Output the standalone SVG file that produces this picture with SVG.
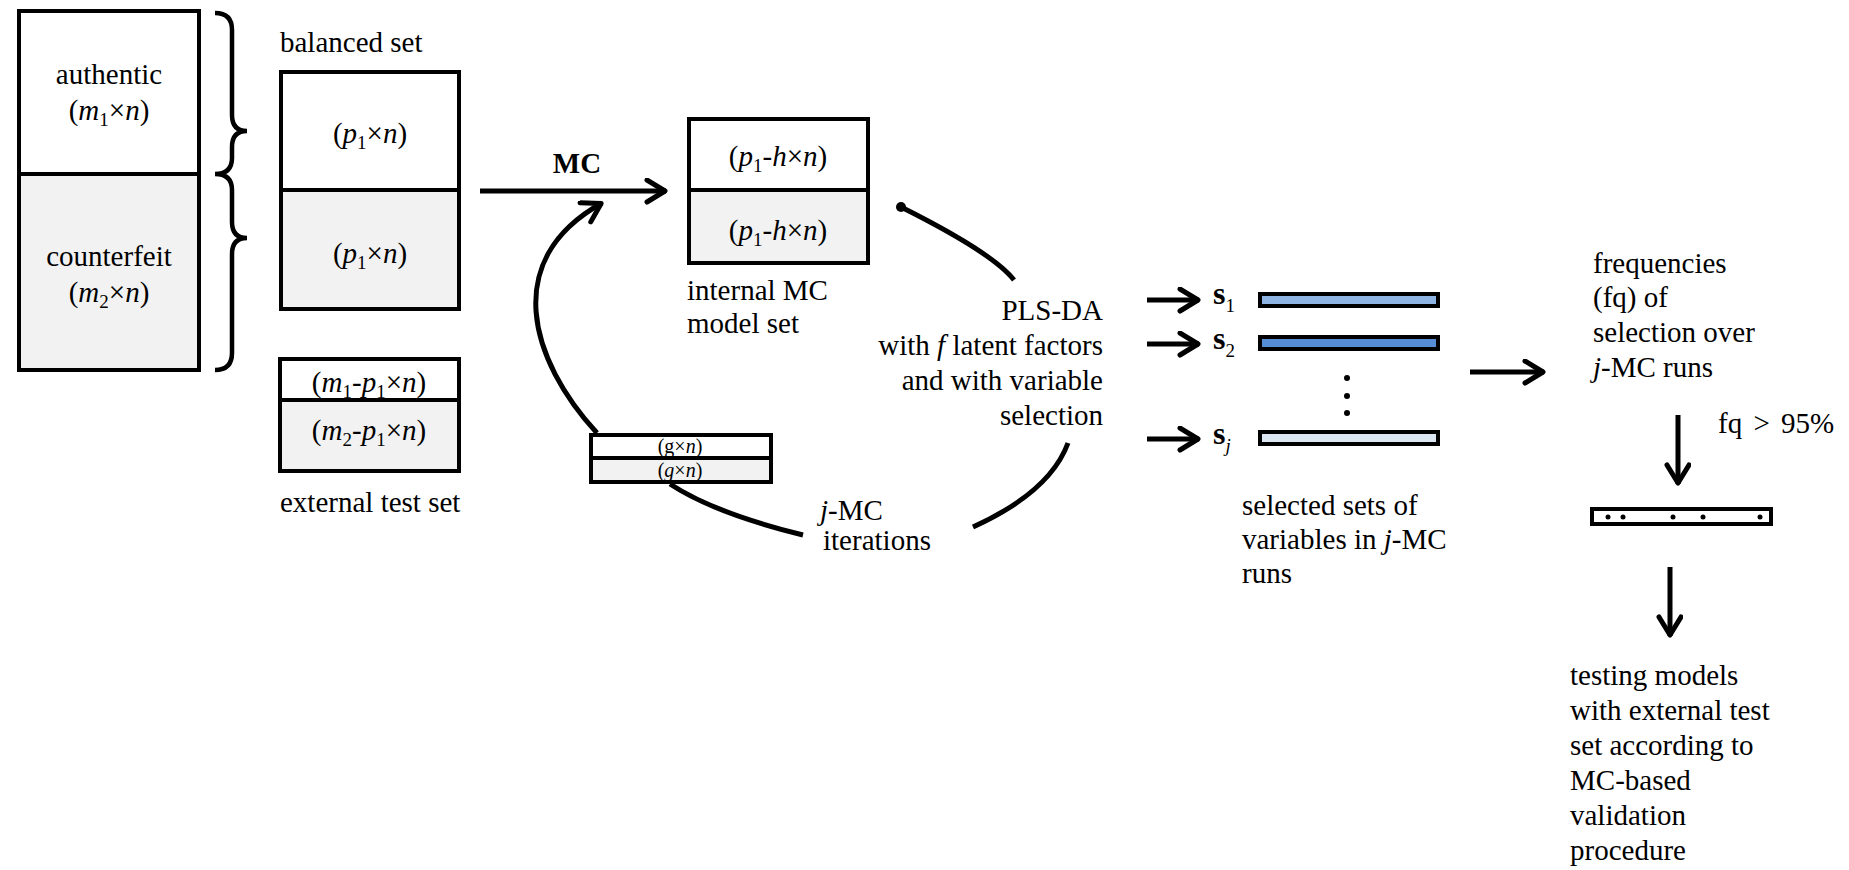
<svg xmlns="http://www.w3.org/2000/svg" width="1849" height="870" viewBox="0 0 1849 870">
<defs>
<style>
text{font-family:"Liberation Serif","Times New Roman",serif;font-size:29px;fill:#000}
.i{font-style:italic}
.b{font-weight:bold}
.sub{font-size:19px}
.box{stroke:#000;stroke-width:4;fill:#fff}
.grey{fill:#f2f2f2}
.ln{stroke:#000;stroke-width:5;fill:none}
.arr{stroke:#000;stroke-width:5;fill:none;marker-end:url(#ah)}
.bar{stroke:#000;stroke-width:4}
.slab{font-size:32px;font-weight:bold}
</style>
<marker id="ah" markerUnits="userSpaceOnUse" markerWidth="30" markerHeight="30" refX="22" refY="13" orient="auto">
<path d="M3,2 L21,13 L3,24" fill="none" stroke="#000" stroke-width="5" stroke-linecap="round" stroke-linejoin="round"/>
</marker>
</defs>
<rect width="1849" height="870" fill="#fff"/>

<g id="full-set">
<rect class="box" x="19" y="11" width="180" height="163"/>
<rect class="box grey" x="19" y="174" width="180" height="196"/>
<text x="109" y="84" text-anchor="middle">authentic</text>
<text x="109" y="120" text-anchor="middle">(<tspan class="i">m</tspan><tspan class="sub" dy="6">1</tspan><tspan dy="-6">×</tspan><tspan class="i">n</tspan>)</text>
<text x="109" y="266" text-anchor="middle">counterfeit</text>
<text x="109" y="302" text-anchor="middle">(<tspan class="i">m</tspan><tspan class="sub" dy="6">2</tspan><tspan dy="-6">×</tspan><tspan class="i">n</tspan>)</text>
</g>

<g id="brace">
<path class="ln" style="stroke-width:4.5" d="M215,13 Q232,13 232,30 L232,115 Q232,131 247,131 Q232,131 232,147 L232,158 Q232,174 215,174 Q232,174 232,190 L232,222 Q232,238 247,238 Q232,238 232,254 L232,353 Q232,370 215,370"/>
</g>

<g id="balanced-set">
<text x="280" y="52">balanced set</text>
<rect class="box" x="281" y="72" width="178" height="118"/>
<rect class="box grey" x="281" y="190" width="178" height="119"/>
<text x="370" y="143" text-anchor="middle">(<tspan class="i">p</tspan><tspan class="sub" dy="6">1</tspan><tspan dy="-6">×</tspan><tspan class="i">n</tspan>)</text>
<text x="370" y="263" text-anchor="middle">(<tspan class="i">p</tspan><tspan class="sub" dy="6">1</tspan><tspan dy="-6">×</tspan><tspan class="i">n</tspan>)</text>
</g>

<g id="external-test-set">
<rect class="box" x="280" y="359" width="179" height="41"/>
<rect class="box grey" x="280" y="400" width="179" height="71"/>
<text x="369" y="392" text-anchor="middle">(<tspan class="i">m</tspan><tspan class="sub" dy="6">1</tspan><tspan dy="-6">-</tspan><tspan class="i">p</tspan><tspan class="sub" dy="6">1</tspan><tspan dy="-6">×</tspan><tspan class="i">n</tspan>)</text>
<text x="369" y="440" text-anchor="middle">(<tspan class="i">m</tspan><tspan class="sub" dy="6">2</tspan><tspan dy="-6">-</tspan><tspan class="i">p</tspan><tspan class="sub" dy="6">1</tspan><tspan dy="-6">×</tspan><tspan class="i">n</tspan>)</text>
<text x="280" y="512">external test set</text>
</g>

<g id="internal-mc-set">
<rect class="box" x="689" y="119" width="179" height="71"/>
<rect class="box grey" x="689" y="190" width="179" height="73"/>
<text x="778" y="166" text-anchor="middle">(<tspan class="i">p</tspan><tspan class="sub" dy="6">1</tspan><tspan dy="-6">-</tspan><tspan class="i">h</tspan>×<tspan class="i">n</tspan>)</text>
<text x="778" y="240" text-anchor="middle">(<tspan class="i">p</tspan><tspan class="sub" dy="6">1</tspan><tspan dy="-6">-</tspan><tspan class="i">h</tspan>×<tspan class="i">n</tspan>)</text>
<text x="687" y="300">internal MC</text>
<text x="687" y="333">model set</text>
</g>

<g id="g-set">
<rect class="box" x="591" y="435" width="180" height="23"/>
<rect class="box grey" x="591" y="458" width="180" height="24"/>
<text x="680" y="453" text-anchor="middle" style="font-size:20px">(g×<tspan class="i">n</tspan>)</text>
<text x="680" y="477" text-anchor="middle" style="font-size:20px">(<tspan class="i">g</tspan>×<tspan class="i">n</tspan>)</text>
</g>

<g id="mc-label">
<text x="577" y="173" text-anchor="middle" class="b">MC</text>
</g>

<g id="iterations-label">
<text x="820" y="520"><tspan class="i">j</tspan>-MC</text>
<text x="823" y="550">iterations</text>
</g>

<g id="pls-da">
<text x="1103" y="320" text-anchor="end">PLS-DA</text>
<text x="1103" y="355" text-anchor="end">with <tspan class="i">f</tspan> latent factors</text>
<text x="1103" y="390" text-anchor="end">and with variable</text>
<text x="1103" y="425" text-anchor="end">selection</text>
</g>

<g id="selected-sets">
<text x="1213" y="304" class="slab">s<tspan class="sub" style="font-weight:normal" dy="8">1</tspan></text>
<text x="1213" y="349" class="slab">s<tspan class="sub" style="font-weight:normal" dy="8">2</tspan></text>
<text x="1213" y="444" class="slab">s<tspan class="sub i" style="font-weight:normal" dy="8">j</tspan></text>
<rect class="bar" x="1260" y="294" width="178" height="12" fill="#8eb4e3"/>
<rect class="bar" x="1260" y="337" width="178" height="12" fill="#558ed5"/>
<rect class="bar" x="1260" y="432" width="178" height="12" fill="#dce6f2"/>
<circle cx="1347" cy="378" r="3" fill="#000"/>
<circle cx="1347" cy="396" r="3" fill="#000"/>
<circle cx="1347" cy="413" r="3" fill="#000"/>
<text x="1242" y="515">selected sets of</text>
<text x="1242" y="549">variables in <tspan class="i">j</tspan>-MC</text>
<text x="1242" y="583">runs</text>
</g>

<g id="frequencies">
<text x="1593" y="273">frequencies</text>
<text x="1593" y="307">(fq) of</text>
<text x="1593" y="342">selection over</text>
<text x="1593" y="377"><tspan class="i">j</tspan>-MC runs</text>
<text x="1718" y="433" style="word-spacing:4px">fq &gt; 95%</text>
</g>

<g id="final-set">
<rect class="bar" x="1592" y="509" width="179" height="15" fill="#fff"/>
<circle cx="1608" cy="517" r="2.5" fill="#000"/>
<circle cx="1623" cy="517" r="2.5" fill="#000"/>
<circle cx="1673" cy="517" r="2.5" fill="#000"/>
<circle cx="1703" cy="517" r="2.5" fill="#000"/>
<circle cx="1760" cy="517" r="2.5" fill="#000"/>
</g>

<g id="testing">
<text x="1570" y="685">testing models</text>
<text x="1570" y="720">with external test</text>
<text x="1570" y="755">set according to</text>
<text x="1570" y="790">MC-based</text>
<text x="1570" y="825">validation</text>
<text x="1570" y="860">procedure</text>
</g>

<g id="connectors">
<line class="arr" x1="480" y1="191" x2="666" y2="191"/>
<path class="arr" d="M597,433 C530,360 500,260 602,203"/>
<circle cx="901" cy="207" r="5" fill="#000"/>
<path class="ln" d="M901,207 Q993,253 1014,280"/>
<path class="ln" d="M1068,443 Q1050,492 973,527"/>
<path class="ln" d="M670,484 Q714,513 803,535"/>
<line class="arr" x1="1147" y1="300" x2="1199" y2="300"/>
<line class="arr" x1="1147" y1="344" x2="1199" y2="344"/>
<line class="arr" x1="1147" y1="439" x2="1199" y2="439"/>
<line class="arr" x1="1470" y1="372" x2="1544" y2="372"/>
<line class="arr" x1="1678" y1="415" x2="1678" y2="484"/>
<line class="arr" x1="1670" y1="567" x2="1670" y2="636"/>
</g>
</svg>
